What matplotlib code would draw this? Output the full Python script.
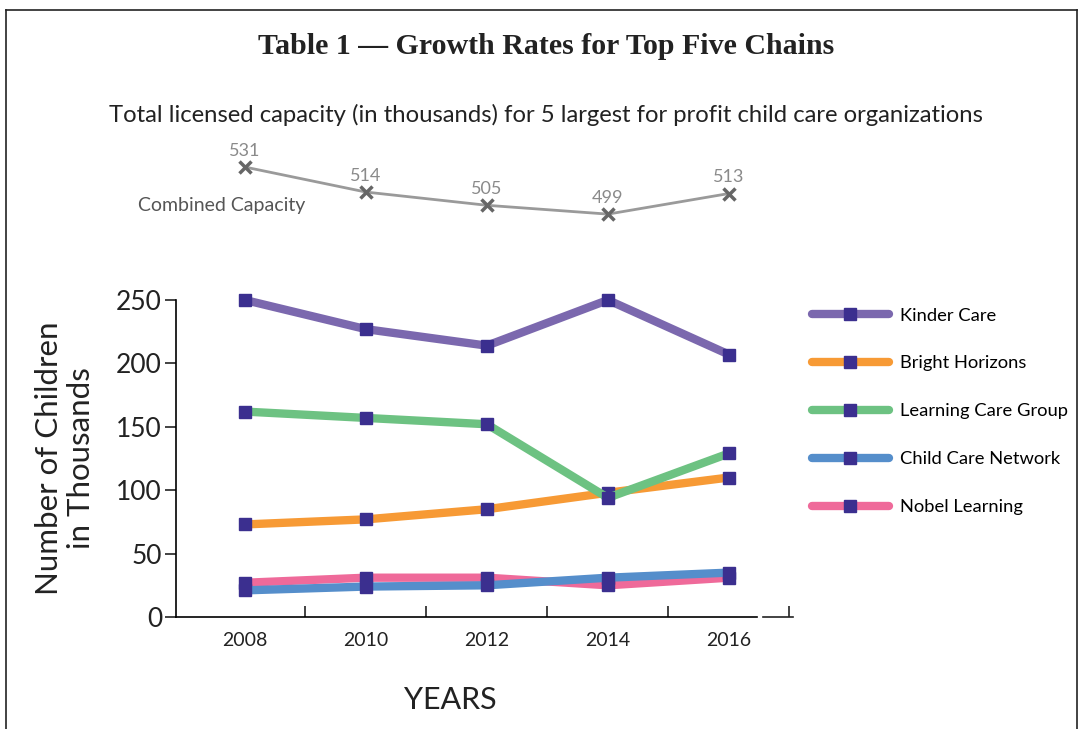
import matplotlib.pyplot as plt
from matplotlib.lines import Line2D

years = [2008, 2010, 2012, 2014, 2016]
combined = [531, 514, 505, 499, 513]

series_names = ["Kinder Care", "Bright Horizons", "Learning Care Group",
                "Child Care Network", "Nobel Learning"]
kinder_care = [250, 227, 214, 250, 207]
bright_horizons = [73, 77, 85, 98, 110]
learning_care = [162, 157, 152, 94, 129]
child_care_network = [21, 24, 25, 31, 35]
nobel_learning = [27, 31, 31, 25, 31]
series_colors = ["#7B68AE", "#F79A35", "#6DC282", "#558ECB", "#EF6A9A"]

plt.rcParams['font.family'] = ['Lato', 'DejaVu Sans']
marker_color = "#3B2F8F"

fig = plt.figure(figsize=(10.85, 7.29), dpi=100)
W, H = 1085, 729

# frame around the figure
for xs, ys in [((6, 6), (10, 729)), ((6, 1077), (10, 10)), ((1077, 1077), (10, 729))]:
    fig.add_artist(Line2D([x / W for x in xs], [1 - y / H for y in ys],
                          color="#222222", lw=1.2))

fig.text(546 / W, 1 - 47 / H, "Table 1 \u2014 Growth Rates for Top Five Chains",
         ha="center", va="center", fontsize=21.5, fontweight="bold",
         family="Liberation Serif", color="#222222")
fig.text(546 / W, 1 - 115 / H,
         "Total licensed capacity (in thousands) for 5 largest for profit child care organizations",
         ha="center", va="center", fontsize=17.2, color="#222222")

xlim = (2006.86, 2017.06)

# main chart
ax = fig.add_axes([176 / W, 1 - 617 / H, 617 / W, 317 / H])
all_series = [kinder_care, bright_horizons, learning_care, child_care_network, nobel_learning]
order = [0, 1, 2, 4, 3]
for i in order:
    ax.plot(years, all_series[i], color=series_colors[i], lw=6, solid_capstyle="round",
            marker="s", markersize=9, markerfacecolor=marker_color,
            markeredgecolor=marker_color, clip_on=False, zorder=3 + (i == 3),
            label=series_names[i])
ax.set_xlim(*xlim)
ax.set_ylim(0, 250)
ax.set_yticks([0, 50, 100, 150, 200, 250])
ax.set_xticks(years)
ax.set_xticks([2009, 2011, 2013, 2015, 2017], minor=True)
ax.tick_params(axis="y", direction="out", length=8, width=1.2, labelsize=19, pad=2,
               colors="#222222")
ax.tick_params(axis="x", which="major", length=0, labelsize=14, pad=11, colors="#222222")
ax.tick_params(axis="x", which="minor", direction="in", length=8, width=1.2,
               colors="#222222")
for s in ["top", "right"]:
    ax.spines[s].set_visible(False)
ax.spines["left"].set_linewidth(1.2)
ax.spines["bottom"].set_linewidth(1.2)
ax.spines["bottom"].set_bounds(xlim[0], 2016.46)
ax.plot([2016.56, xlim[1]], [0, 0], color="#222222", lw=1.2, clip_on=False,
        transform=ax.get_xaxis_transform())
ax.set_ylabel("Number of Children\nin Thousands", fontsize=22.5, labelpad=15, color="#222222")
fig.text(450 / W, 1 - 700 / H, "YEARS", ha="center", va="center", fontsize=22,
         color="#222222")

handles = []
for i in range(5):
    handles.append(Line2D([], [], color=series_colors[i], lw=6, solid_capstyle="round",
                          marker="s", markersize=9, markerfacecolor=marker_color,
                          markeredgecolor=marker_color, label=series_names[i]))
fig.legend(handles=handles, loc="upper left", bbox_to_anchor=(795 / W, 1 - 291 / H),
           frameon=False, fontsize=13.2, handlelength=4.2, labelspacing=1.74,
           handletextpad=0.6)

# combined capacity strip
ax2 = fig.add_axes([176 / W, 1 - 230 / H, 617 / W, 80 / H])
ax2.plot(years, combined, color="#9A9A9A", lw=2, marker="x", markersize=9,
         markeredgewidth=2.5, markeredgecolor="#666666", clip_on=False)
for x, v in zip(years, combined):
    ax2.annotate(str(v), (x, v), xytext=(0, 6), textcoords="offset points",
                 ha="center", va="bottom", fontsize=13, color="#8A8A8A")
ax2.set_xlim(*xlim)
ax2.set_ylim(488.2, 542.6)
ax2.axis("off")
fig.text(222 / W, 1 - 205 / H, "Combined Capacity", ha="center", va="center",
         fontsize=14, color="#555555")

fig.savefig("out.png", dpi=100)
